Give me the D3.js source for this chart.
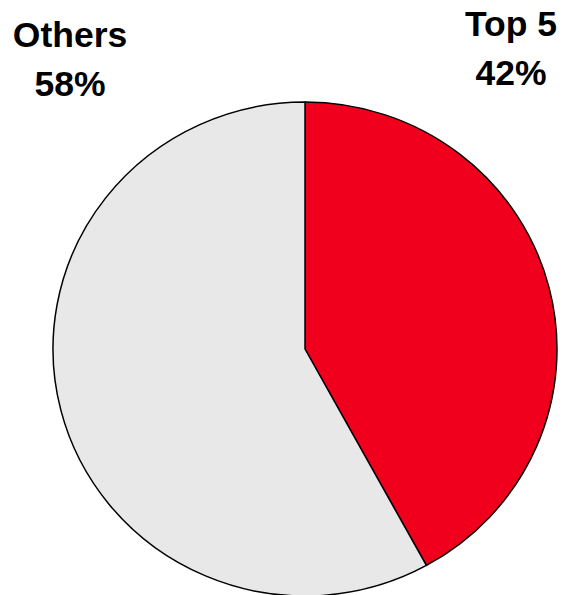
<!DOCTYPE html>
<html>
<head>
<meta charset="utf-8">
<script src="https://cdn.jsdelivr.net/npm/d3@7"></script>
<style>
html,body{margin:0;padding:0;background:#fff;}
svg{display:block;}
</style>
</head>
<body>
<script>
const categories = ["Top 5", "Others"];
const values = [42, 58];
const colors = ["#f0001c", "#e8e8e8"];

const W = 563, H = 595;
const svg = d3.select("body").append("svg").attr("width", W).attr("height", H);

const cx = 305, cy = 349, rx = 252, ry = 247;
const pie = d3.pie().sort(null).value(d => d)(values);
const arc = d3.arc().innerRadius(0).outerRadius(rx);

const g = svg.append("g").attr("transform", `translate(${cx},${cy}) scale(1,${ry/rx})`);
g.selectAll("path").data(pie).enter().append("path")
  .attr("d", arc)
  .attr("fill", (d, i) => colors[i])
  .attr("stroke", "#000")
  .attr("stroke-width", 1.5)
  .attr("stroke-linejoin", "round");

const labelPos = [{x: 511, y: 36}, {x: 70, y: 47}];
const lab = svg.selectAll("text.lab").data(pie).enter().append("text")
  .attr("class", "lab")
  .attr("text-anchor", "middle")
  .attr("font-family", "'Liberation Sans', Arial, sans-serif")
  .attr("font-weight", "bold")
  .attr("font-size", 35.5)
  .attr("fill", "#000")
  .attr("x", (d, i) => labelPos[i].x)
  .attr("y", (d, i) => labelPos[i].y);
lab.append("tspan").attr("x", (d, i) => labelPos[i].x).text((d, i) => categories[i]);
lab.append("tspan").attr("x", (d, i) => labelPos[i].x).attr("dy", 49).text(d => d.data + "%");
</script>
</body>
</html>
